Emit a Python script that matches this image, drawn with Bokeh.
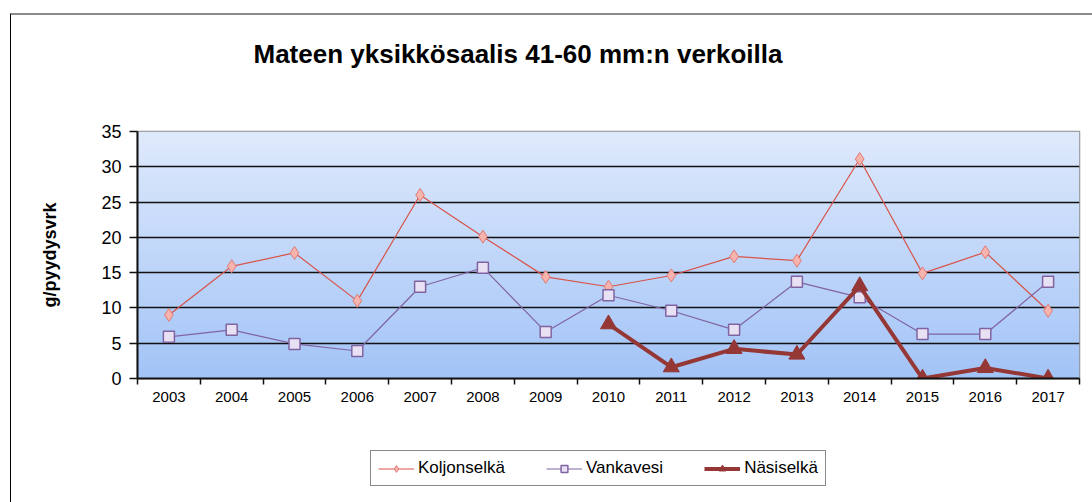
import numpy as np
from bokeh.plotting import figure
from bokeh.models import FixedTicker, Legend, Range1d, Title
from bokeh.layouts import column
from bokeh.embed import file_html
from bokeh.resources import INLINE

nan = float("nan")
years = [2003, 2004, 2005, 2006, 2007, 2008, 2009, 2010, 2011, 2012, 2013, 2014, 2015, 2016, 2017]
koljonselka = [9.0, 15.9, 17.8, 11.0, 26.0, 20.1, 14.4, 13.0, 14.6, 17.3, 16.7, 31.1, 14.9, 17.9, 9.6]
vankavesi = [5.9, 6.9, 4.9, 3.9, 13.0, 15.7, 6.6, 11.8, 9.6, 6.9, 13.7, 11.5, 6.3, 6.3, 13.7]
nasiselka = [nan, nan, nan, nan, nan, nan, nan, 7.7, 1.6, 4.2, 3.4, 13.1, 0.0, 1.5, 0.0]
series_names = ["Koljonselkä", "Vankavesi", "Näsiselkä"]
y_ticks = [0, 5, 10, 15, 20, 25, 30, 35]
title_text = "Mateen yksikkösaalis 41-60 mm:n verkoilla"

FONT = "Liberation Sans"

STYLES = [
    dict(line=dict(color="#d9534a", line_width=1.2),
         marker=dict(marker="diamond", size=13, fill_color="#f7b3ad", line_color="#e07a72", line_width=1)),
    dict(line=dict(color="#8064a2", line_width=1.2),
         marker=dict(marker="square", size=11, fill_color="#e8e0f3", line_color="#8064a2", line_width=1.5)),
    dict(line=dict(color="#953735", line_width=4),
         marker=dict(marker="triangle", size=16, fill_color="#953735", line_color="#953735", line_width=1)),
]

p = figure(width=1081, height=397, output_backend="svg", toolbar_location=None,
           x_range=Range1d(years[0] - 0.5, years[-1] + 0.5), y_range=Range1d(0, 35),
           min_border_left=126, min_border_right=13, min_border_top=116, min_border_bottom=34)

# gradient background of the plot area
n = 256
top = np.array([223, 234, 252], dtype=float)
bot = np.array([163, 196, 247], dtype=float)
t = np.linspace(0, 1, n)[:, None]
cols = (bot * (1 - t) + top * t).astype(np.uint32)
img = np.empty((n, 1), dtype=np.uint32)
view = img.view(dtype=np.uint8).reshape((n, 1, 4))
view[:, 0, 0] = cols[:, 0]
view[:, 0, 1] = cols[:, 1]
view[:, 0, 2] = cols[:, 2]
view[:, 0, 3] = 255
p.image_rgba(image=[img], x=years[0] - 0.5, y=0, dw=len(years), dh=35, level="image")

p.outline_line_color = "#8c8c8c"
p.outline_line_width = 1.5
p.background_fill_color = "white"

# grid
p.xgrid.visible = False
p.ygrid.ticker = FixedTicker(ticks=y_ticks[1:-1])
p.ygrid.grid_line_color = "#111111"
p.ygrid.grid_line_width = 1.5
p.ygrid.level = "underlay"

# y axis
p.yaxis.ticker = FixedTicker(ticks=y_ticks)
p.yaxis.axis_line_color = "#111111"
p.yaxis.axis_line_width = 2
p.yaxis.major_tick_line_color = "#111111"
p.yaxis.major_tick_line_width = 1.5
p.yaxis.major_tick_out = 8
p.yaxis.major_tick_in = 0
p.yaxis.minor_tick_line_color = None
p.yaxis.major_label_text_font = FONT
p.yaxis.major_label_text_font_size = "18px"
p.yaxis.major_label_text_color = "#000000"
p.yaxis.major_label_standoff = 8
p.yaxis.axis_label = "g/pyydysvrk"
p.yaxis.axis_label_text_font = FONT
p.yaxis.axis_label_text_font_style = "bold"
p.yaxis.axis_label_text_font_size = "18px"
p.yaxis.axis_label_text_color = "#000000"
p.yaxis.axis_label_standoff = 38

# x axis
p.xaxis.ticker = FixedTicker(ticks=years, minor_ticks=[y - 0.5 for y in years] + [years[-1] + 0.5])
p.xaxis.major_label_overrides = {y: str(y) for y in years}
p.xaxis.axis_line_color = "#111111"
p.xaxis.axis_line_width = 2
p.xaxis.major_tick_line_color = None
p.xaxis.minor_tick_line_color = "#111111"
p.xaxis.minor_tick_line_width = 1.5
p.xaxis.minor_tick_out = 6
p.xaxis.minor_tick_in = 0
p.xaxis.major_label_text_font = FONT
p.xaxis.major_label_text_font_size = "15px"
p.xaxis.major_label_text_color = "#000000"
p.xaxis.major_label_standoff = 7

# title (spacer first, real title outside it)
p.title.text = ""
p.add_layout(Title(text="\u00a0", text_font_size="20px", standoff=34), "above")
p.add_layout(Title(text=title_text, text_font=FONT, text_font_style="bold",
                   text_font_size="26px", text_color="#000000", align="left",
                   offset=116, standoff=10), "above")

# series
for vals, st in zip([koljonselka, vankavesi, nasiselka], STYLES):
    p.line(years, vals, **st["line"])
    p.scatter(years, vals, **st["marker"])

# legend strip below the chart (renderers hold one point outside the visible range)
p2 = figure(width=1081, height=90, output_backend="svg", toolbar_location=None,
            x_range=Range1d(0, 1), y_range=Range1d(0, 1), x_axis_type=None, y_axis_type=None,
            min_border_left=0, min_border_right=0, min_border_top=0, min_border_bottom=0)
p2.outline_line_color = None
p2.grid.visible = False
items = []
for name, st in zip(series_names, STYLES):
    lr = p2.line([10, 11], [10, 11], **st["line"])
    mr = p2.scatter([10], [10], **st["marker"])
    items.append((name, [lr, mr]))

legend = Legend(items=items, orientation="horizontal", location=(233, 16))
legend.label_text_font = FONT
legend.label_text_font_size = "17px"
legend.label_text_color = "#000000"
legend.glyph_width = 36
legend.glyph_height = 17
legend.label_height = 17
legend.label_standoff = 4
legend.spacing = 41
legend.padding = 7
legend.margin = 0
legend.border_line_color = "#111111"
legend.border_line_width = 1
legend.background_fill_color = "white"
legend.background_fill_alpha = 1
p2.add_layout(legend, "center")

layout = column(p, p2, spacing=0)
layout.margin = (13, 0, 0, 10)
layout.styles = {"border-left": "1px solid #000000", "border-top": "2px solid #8a8a8a"}

open("out.html", "w").write(file_html(layout, INLINE))
